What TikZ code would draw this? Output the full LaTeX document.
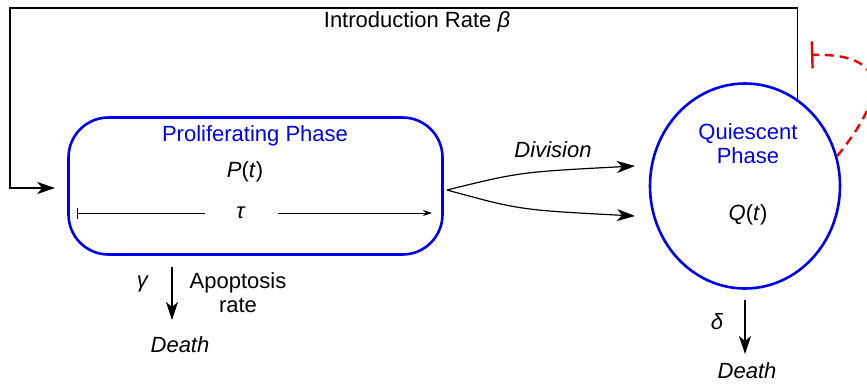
\documentclass[tikz,border=0pt]{standalone}
\usepackage{fontspec}
\setmainfont{Liberation Sans}
\usetikzlibrary{shapes.geometric,arrows.meta}
\definecolor{phaseblue}{RGB}{0,0,240}
\definecolor{inhred}{RGB}{240,0,0}
\begin{document}
\begin{tikzpicture}[x=1pt,y=-1pt,
  every node/.style={font=\fontsize{22}{24}\selectfont, inner sep=0pt},
  phasebox/.style={draw=phaseblue, line width=2.6pt, rounded corners=40pt, minimum width=374pt, minimum height=137pt},
  phasecirc/.style={draw=phaseblue, line width=2.6pt, ellipse, minimum width=190pt, minimum height=205pt},
  lbl/.style={text=phaseblue, align=center},
  conn/.style={draw=black, line width=1.2pt},
  bigtip/.style={-{Stealth[length=18pt,width=12pt,inset=5pt]}},
  inhib/.style={draw=inhred, line width=2.4pt, dash pattern=on 9pt off 6pt, -{Bar[width=27pt,line width=2.4pt]}}
]
\useasboundingbox (0,0) rectangle (867,383);
% main nodes
\node[phasebox] (P) at (255.5,186) {};
\node[phasecirc] (Q) at (745,186) {};
% labels
\node[lbl] (Plbl) at (255,136) {Proliferating Phase};
\node (Pt) at (245,172) {\textit{P}(\textit{t})};
\node[lbl] (Qlbl) at (748,144) {Quiescent\\Phase};
\node (Qt) at (748,215) {\textit{Q}(\textit{t})};
\node (intro) at (417,22) {Introduction Rate \textit{β}};
\node (div) at (553,150) {\textit{Division}};
\node (tau) at (241,213) {\textit{τ}};
\node (gam) at (143,284) {\textit{γ}};
\node[align=center] (apo) at (238,293) {Apoptosis\\rate};
\node (death1) at (180,345) {\textit{Death}};
\node (del) at (717,322) {\textit{δ}};
\node (death2) at (747,371) {\textit{Death}};
% coordinates
\coordinate (tauL) at (77,213);
\coordinate (tauR) at (432,213);
\coordinate (divS) at (447,190);
\coordinate (divT) at (635,166);
\coordinate (divB) at (635,216);
\coordinate (gamS) at (172,267);
\coordinate (gamT) at (172,320);
\coordinate (delS) at (745,300);
\coordinate (delT) at (745,354);
\coordinate (inhEnd) at (811,55);
% introduction loop
\draw[conn, bigtip, shorten >=12pt] (Q.59) -- (Q.59 |- 0,8) -| (10,188) -- (P.west |- 0,188);
% tau
\draw[conn, line width=1pt, {Bar[width=11pt]}-] (tauL) -- (205,213);
\draw[conn, line width=1pt, -{Stealth[length=9pt,width=6pt]}] (278,213) -- (tauR);
% division
\draw[conn, bigtip] (divS) .. controls (520,172) .. (divT);
\draw[conn, bigtip] (divS) .. controls (520,210) .. (divB);
% deaths
\draw[conn, bigtip] (gamS) -- (gamT);
\draw[conn, bigtip] (delS) -- (delT);
% inhibition
\draw[inhib] (Q.18) .. controls (895,85) and (880,53) .. (inhEnd);
\end{tikzpicture}
\end{document}
